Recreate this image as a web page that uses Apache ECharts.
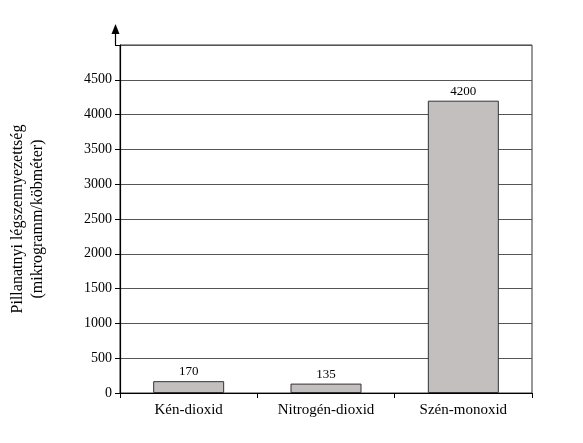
<!DOCTYPE html>
<html><head><meta charset="utf-8">
<script src="https://cdn.jsdelivr.net/npm/echarts@6/dist/echarts.min.js"></script>
<style>html,body{margin:0;padding:0;background:#fff}#c{width:583px;height:443px}</style>
</head><body><div id="c"></div>
<script>
const categories = ['Kén-dioxid', 'Nitrogén-dioxid', 'Szén-monoxid'];
const values = [170, 135, 4200];
const F = 'Liberation Serif';
const chart = echarts.init(document.getElementById('c'));
chart.setOption({
  animation: false,
  grid: {left: 115, right: 51, top: 45, bottom: 50, show: true, borderColor: '#333', borderWidth: 1},
  graphic: [{
    type: 'line', shape: {x1: 115.5, y1: 45, x2: 115.5, y2: 30},
    style: {stroke: '#000', lineWidth: 1.2}
  }, {
    type: 'polygon', shape: {points: [[115.5, 24], [111.5, 34], [119.5, 34]]},
    style: {fill: '#000'}
  }],
  xAxis: {
    type: 'category', data: categories,
    axisLine: {lineStyle: {color: '#000'}},
    axisTick: {show: true, lineStyle: {color: '#000'}},
    axisLabel: {color: '#000', fontFamily: F, fontSize: 15, margin: 10}
  },
  yAxis: {
    type: 'value', min: 0, max: 5000, interval: 500,
    name: 'Pillanatnyi légszennyezettség\n(mikrogramm/köbméter)',
    nameLocation: 'middle', nameGap: 72, nameRotate: 90,
    nameTextStyle: {color: '#000', fontFamily: F, fontSize: 16, lineHeight: 20},
    axisLine: {show: true, lineStyle: {color: '#000', width: 1.2}},
    axisTick: {show: true, lineStyle: {color: '#000'}},
    axisLabel: {color: '#000', fontFamily: F, fontSize: 14, formatter: v => v === 5000 ? '' : v},
    splitLine: {lineStyle: {color: '#555', width: 1}}
  },
  series: [{
    type: 'bar', data: values, barWidth: 71,
    itemStyle: {color: '#c3bfbf', borderColor: '#333', borderWidth: 1},
    label: {show: true, position: 'top', color: '#000', fontFamily: F, fontSize: 13, distance: 3}
  }]
});
</script></body></html>
